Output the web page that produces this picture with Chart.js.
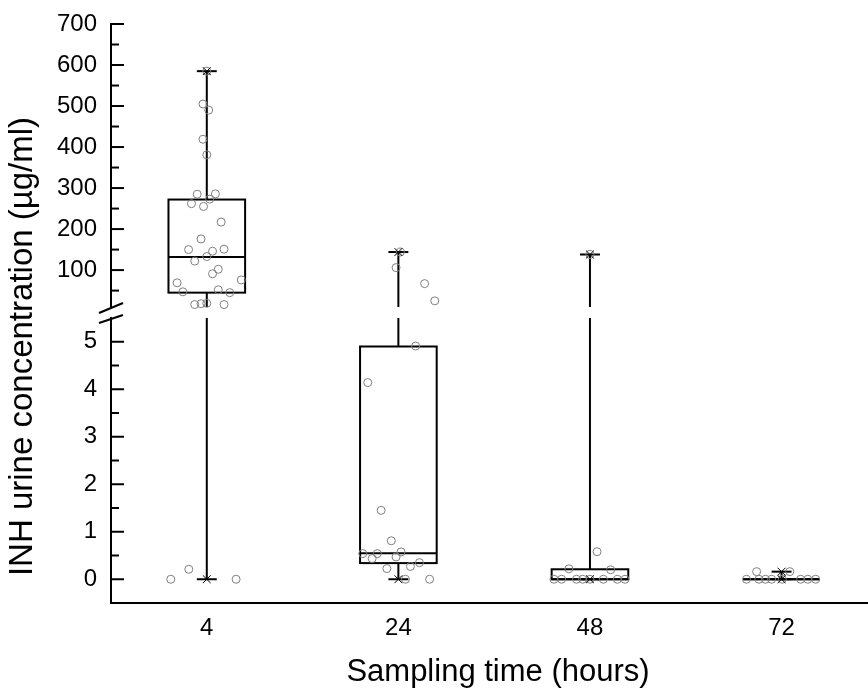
<!DOCTYPE html>
<html>
<head>
<meta charset="utf-8">
<script src="https://cdn.jsdelivr.net/npm/chart.js@4/dist/chart.umd.min.js"></script>
<style>
  html, body { margin: 0; padding: 0; background: #fff; }
  #wrap { width: 868px; height: 693px; }
</style>
</head>
<body>
<div id="wrap"><canvas id="c" width="868" height="693"></canvas></div>
<script>
// ---------- data ----------
const categories = ['4', '24', '48', '72'];
const q1Values = [45, 0.34, 0, 0];
const medianValues = [132, 0.55, 0, 0];
const q3Values = [272, 4.9, 0.21, 0];
const minValues = [0, 0, 0, 0];
const maxValues = [585, 144, 138, 0.16];

const obs4 = [585, 505, 490, 419, 381, 285, 286, 273, 262, 255, 217, 176, 150, 146, 151, 133, 122, 102, 91, 69, 76, 47, 52, 45, 16, 18, 19, 16, 0, 0.21, 0];
const jit4 = [0.00, -0.02, 0.01, -0.02, 0.00, -0.05, 0.045, 0.015, -0.08, -0.017, 0.075, -0.03, -0.095, 0.03, 0.09, 0.00, -0.063, 0.06, 0.03, -0.155, 0.18, -0.125, 0.06, 0.12, -0.063, -0.03, 0.00, 0.09, -0.188, -0.094, 0.153];
const obs24 = [144, 106, 67, 25, 4.91, 4.14, 1.45, 0.81, 0.54, 0.54, 0.575, 0.435, 0.47, 0.35, 0.27, 0.225, 0, 0];
const jit24 = [0.01, -0.012, 0.137, 0.19, 0.09, -0.16, -0.09, -0.037, -0.186, -0.11, 0.014, -0.137, -0.012, 0.11, 0.063, -0.06, 0.037, 0.163];
const obs48 = [138, 0.58, 0.22, 0.2, 0, 0, 0, 0, 0, 0, 0, 0];
const jit48 = [0, 0.037, -0.11, 0.108, -0.188, -0.148, -0.07, -0.038, 0, 0.07, 0.143, 0.183];
const obs72 = [0.16, 0.16, 0, 0, 0, 0, 0, 0, 0, 0];
const jit72 = [-0.13, 0.043, -0.183, -0.118, -0.084, -0.052, 0.004, 0.1, 0.137, 0.178];

// axis ranges and ticks (broken axis: lower segment and upper segment)
const lowRange = [-0.5, 5.5];
const highRange = [10, 700];
const xRange = [0.5, 4.54];
const lowMajorTicks = [0, 1, 2, 3, 4, 5];
const lowMinorTicks = [0.5, 1.5, 2.5, 3.5, 4.5];
const highMajorTicks = [100, 200, 300, 400, 500, 600, 700];
const highMinorTicks = [50, 150, 250, 350, 450, 550, 650];

// ---------- style constants ----------
const FONT = "'Liberation Sans', Arial, Helvetica, sans-serif";
const BOX_HALF = 0.2;      // category units
const CAP_HALF = 0.052;    // category units
const Y_AXIS_W = 72;
const X_AXIS_H = 90;
const TOP_PAD = 24;
const EXTEND_RIGHT = 17;   // plot area runs past the right edge of the picture

const obsGroups = [[obs4, jit4], [obs24, jit24], [obs48, jit48], [obs72, jit72]];
const lowMax = lowRange[1];

const ptsHigh = [], ptsLow = [];
obsGroups.forEach(([vals, jit], i) => {
  vals.forEach((v, k) => {
    const p = { x: i + 1 + jit[k], y: v };
    (v > lowMax ? ptsHigh : ptsLow).push(p);
  });
});
const xHigh = [], xLow = [];
categories.forEach((c, i) => {
  [minValues[i], maxValues[i]].forEach(v => {
    (v > lowMax ? xHigh : xLow).push({ x: i + 1, y: v });
  });
});

const crossStyle = { pointStyle: 'crossRot', pointRadius: 5.5, pointBorderColor: '#000', pointBorderWidth: 1, showLine: false, clip: false };
const circStyle = { pointStyle: 'circle', pointRadius: 4, pointBorderColor: '#7f7f7f', pointBackgroundColor: 'rgba(0,0,0,0)', pointBorderWidth: 1, showLine: false, clip: false };

const boxPlugin = {
  id: 'boxplot',
  afterLayout(chart) {
    // let the x axis continue past the right edge of the canvas, as in the cropped original
    const xs = chart.scales.x;
    xs.right = xs.right + EXTEND_RIGHT;
    xs.width = xs.right - xs.left;
    xs.configure();
  },
  beforeDatasetsDraw(chart) {
    const ctx = chart.ctx;
    const xs = chart.scales.x, hi = chart.scales.yHigh, lo = chart.scales.yLow;
    const py = v => v > lowMax ? hi.getPixelForValue(v) : lo.getPixelForValue(v);
    const line = (x1, y1, x2, y2) => { ctx.beginPath(); ctx.moveTo(x1, y1); ctx.lineTo(x2, y2); ctx.stroke(); };
    const seg = (x, a, b) => {
      if (a <= lowMax && b > lowMax) {
        line(x, py(a), x, lo.top);
        line(x, hi.bottom, x, py(b));
      } else {
        line(x, py(a), x, py(b));
      }
    };
    ctx.save();
    ctx.strokeStyle = '#000';
    ctx.lineWidth = 2;
    categories.forEach((c, i) => {
      const cx = xs.getPixelForValue(i + 1);
      const bl = xs.getPixelForValue(i + 1 - BOX_HALF);
      const br = xs.getPixelForValue(i + 1 + BOX_HALF);
      const cl = xs.getPixelForValue(i + 1 - CAP_HALF);
      const cr = xs.getPixelForValue(i + 1 + CAP_HALF);
      seg(cx, minValues[i], q1Values[i]);
      seg(cx, q3Values[i], maxValues[i]);
      line(cl, py(minValues[i]), cr, py(minValues[i]));
      line(cl, py(maxValues[i]), cr, py(maxValues[i]));
      const yt = py(q3Values[i]), yb = py(q1Values[i]);
      ctx.strokeRect(bl, yt, br - bl, yb - yt);
      line(bl, py(medianValues[i]), br, py(medianValues[i]));
    });
    ctx.restore();
  },
  afterDraw(chart) {
    const ctx = chart.ctx;
    const hi = chart.scales.yHigh, lo = chart.scales.yLow;
    const ax = hi.right;
    ctx.save();
    ctx.strokeStyle = '#000';
    ctx.lineWidth = 2;
    const tick = (s, v, len) => { const y = s.getPixelForValue(v); ctx.beginPath(); ctx.moveTo(ax, y); ctx.lineTo(ax + len, y); ctx.stroke(); };
    highMajorTicks.forEach(v => tick(hi, v, 13));
    highMinorTicks.forEach(v => tick(hi, v, 8));
    lowMajorTicks.forEach(v => tick(lo, v, 13));
    lowMinorTicks.forEach(v => tick(lo, v, 8));
    // break marks
    const b1 = hi.bottom, b2 = lo.top;
    ctx.beginPath(); ctx.moveTo(ax - 12, b1 + 6); ctx.lineTo(ax + 12, b1 - 4); ctx.stroke();
    ctx.beginPath(); ctx.moveTo(ax - 12, b2 + 5); ctx.lineTo(ax + 12, b2 - 3); ctx.stroke();
    ctx.restore();
  }
};

const tickFont = { family: FONT, size: 24 };
const fitY = s => {
  s.width = Y_AXIS_W;
  s.paddingTop = s.id === 'yHigh' ? TOP_PAD : 0;
  s.paddingBottom = 0; s.paddingLeft = 0; s.paddingRight = 0;
};

new Chart(document.getElementById('c'), {
  type: 'scatter',
  data: {
    datasets: [
      Object.assign({ label: 'min/max high', data: xHigh, yAxisID: 'yHigh' }, crossStyle),
      Object.assign({ label: 'min/max low', data: xLow, yAxisID: 'yLow' }, crossStyle),
      Object.assign({ label: 'obs high', data: ptsHigh, yAxisID: 'yHigh' }, circStyle),
      Object.assign({ label: 'obs low', data: ptsLow, yAxisID: 'yLow' }, circStyle)
    ]
  },
  options: {
    responsive: false,
    animation: false,
    events: [],
    layout: { autoPadding: false, padding: { top: 0, right: 0, bottom: 0, left: 0 } },
    plugins: {
      legend: { display: false },
      tooltip: { enabled: false },
      title: {
        display: true,
        position: 'left',
        text: 'INH urine concentration (\u00b5g/ml)',
        color: '#000',
        font: { family: FONT, size: 33, weight: 'normal', lineHeight: 1 },
        padding: { top: 6, bottom: 0 }
      }
    },
    scales: {
      x: {
        type: 'linear',
        min: xRange[0],
        max: xRange[1],
        grid: { display: false, drawTicks: false },
        border: { display: true, color: '#000', width: 2 },
        afterBuildTicks: s => { s.ticks = categories.map((c, i) => ({ value: i + 1 })); },
        afterFit: s => { s.height = X_AXIS_H; s.paddingLeft = 0; s.paddingRight = 0; s.paddingTop = 0; s.paddingBottom = 0; },
        ticks: {
          color: '#000',
          font: tickFont,
          padding: 11,
          autoSkip: false,
          maxRotation: 0,
          callback: v => categories[Math.round(v) - 1]
        },
        title: {
          display: true,
          text: 'Sampling time (hours)',
          color: '#000',
          font: { family: FONT, size: 31, weight: 'normal', lineHeight: 1.2 },
          padding: { top: 0, bottom: 2 }
        }
      },
      yHigh: {
        type: 'linear',
        position: 'left',
        stack: 'y',
        stackWeight: 283,
        weight: 3,
        min: highRange[0],
        max: highRange[1],
        grid: { display: false, drawTicks: false },
        border: { display: true, color: '#000', width: 2 },
        afterBuildTicks: s => { s.ticks = highMajorTicks.map(v => ({ value: v })); },
        afterFit: fitY,
        ticks: { color: '#000', font: tickFont, padding: 14, autoSkip: false }
      },
      yGap: {
        type: 'linear',
        position: 'left',
        stack: 'y',
        stackWeight: 11,
        weight: 2,
        min: 0,
        max: 1,
        grid: { display: false, drawTicks: false },
        border: { display: false },
        afterBuildTicks: s => { s.ticks = []; },
        afterFit: fitY,
        ticks: { display: false }
      },
      yLow: {
        type: 'linear',
        position: 'left',
        stack: 'y',
        stackWeight: 285,
        weight: 1,
        min: lowRange[0],
        max: lowRange[1],
        grid: { display: false, drawTicks: false },
        border: { display: true, color: '#000', width: 2 },
        afterBuildTicks: s => { s.ticks = lowMajorTicks.map(v => ({ value: v })); },
        afterFit: fitY,
        ticks: { color: '#000', font: tickFont, padding: 14, autoSkip: false }
      }
    }
  },
  plugins: [boxPlugin]
});
</script>
</body>
</html>
